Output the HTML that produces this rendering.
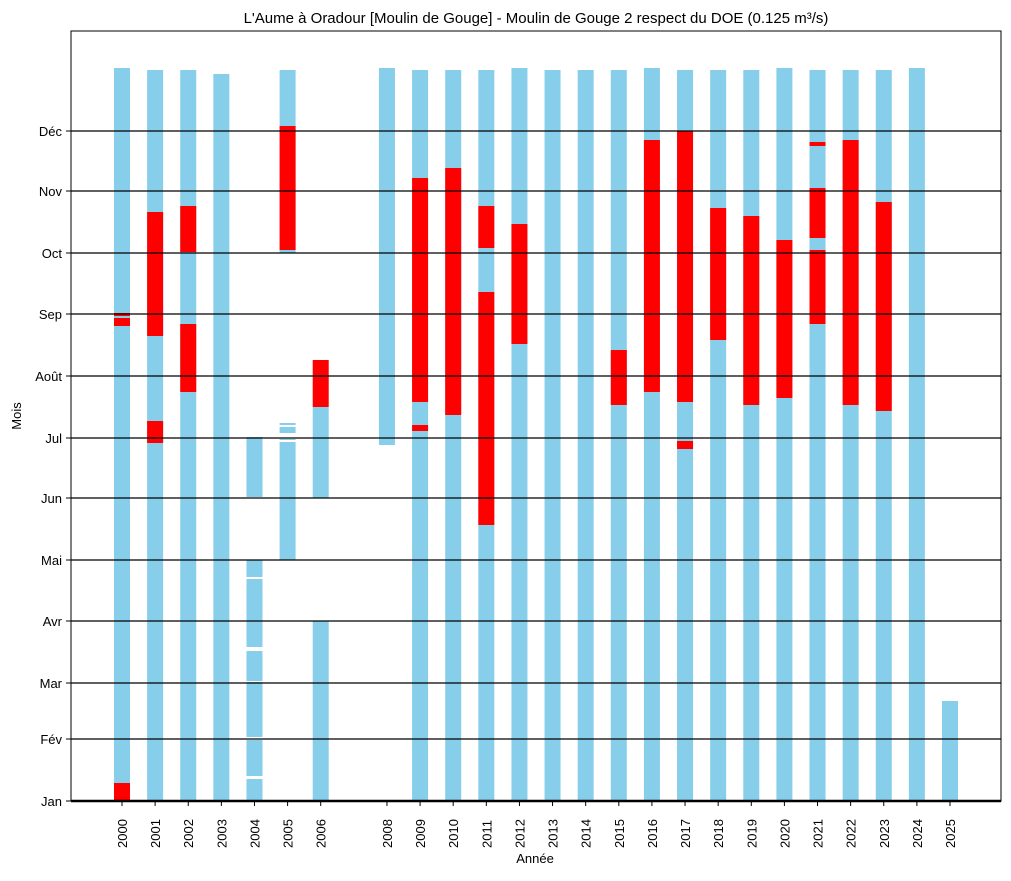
<!DOCTYPE html><html><head><meta charset="utf-8"><style>body{margin:0;background:#fff}</style></head><body>
<svg width="1011" height="876" xmlns="http://www.w3.org/2000/svg" font-family="Liberation Sans, DejaVu Sans, sans-serif">
<rect width="1011" height="876" fill="#fff"/>
<text x="536" y="23" font-size="15" text-anchor="middle">L'Aume à Oradour [Moulin de Gouge] - Moulin de Gouge 2 respect du DOE (0.125 m³/s)</text>
<g id="bars"></g>
<g id="grid" stroke="#000" stroke-width="1.2"></g>
<rect x="71" y="31" width="930" height="770" fill="none" stroke="#000" stroke-width="1"/>
<line x1="71" y1="801" x2="1001" y2="801" stroke="#000" stroke-width="2.5"/>
<g id="ylab" font-size="13" text-anchor="end"></g>
<g id="xlab" font-size="13"></g>
<text x="535" y="863" font-size="13" text-anchor="middle">Année</text>
<text transform="translate(21,416) rotate(-90)" font-size="13" text-anchor="middle">Mois</text>
</svg>
<script>
const ns="http://www.w3.org/2000/svg";
function el(p,t,a,txt){const e=document.createElementNS(ns,t);for(const k in a)e.setAttribute(k,a[k]);if(txt)e.textContent=txt;document.getElementById(p).appendChild(e);}
const B="#87ceeb",R="#ff0000",W="#ffffff";
const d={2000:[[B,68,801],[R,313,326],[B,316,318],[R,783,801]],
2001:[[B,70,801],[R,212,336],[R,421,443]],
2002:[[B,70,801],[R,206,252],[R,324,392]],
2003:[[B,74,801]],
2004:[[B,437,497],[B,560,801],[W,577,579],[W,647,651],[W,681,682],[W,737,740],[W,776,779]],
2005:[[B,70,253],[R,126,250],[B,423,425],[B,427,433],[B,439,440],[B,442,560]],
2006:[[R,360,407],[B,407,498],[B,621,801]],
2008:[[B,68,445]],
2009:[[B,70,801],[R,178,402],[R,425,431]],
2010:[[B,70,801],[R,168,415]],
2011:[[B,70,525],[R,206,248],[R,292,525],[B,525,801]],
2012:[[B,68,801],[R,224,344]],
2013:[[B,70,801]],2014:[[B,70,801]],
2015:[[B,70,801],[R,350,405]],
2016:[[B,68,801],[R,140,392]],
2017:[[B,70,801],[R,131,402],[R,441,449]],
2018:[[B,70,801],[R,208,340]],
2019:[[B,70,801],[R,216,405]],
2020:[[B,68,801],[R,240,398]],
2021:[[B,70,801],[R,142,146],[R,188,238],[R,250,324]],
2022:[[B,70,801],[R,140,405]],
2023:[[B,70,801],[R,202,411]],
2024:[[B,68,801]],
2025:[[B,701,801]]};
for(const y in d){const cx=122+33.12*(y-2000);
 for(const s of d[y])el("bars","rect",{x:cx-8,y:s[1],width:16,height:s[2]-s[1],fill:s[0]});
 el("xlab","line",{x1:cx,y1:801,x2:cx,y2:806,stroke:"#000"});
 el("xlab","text",{transform:`translate(${cx+5},848) rotate(-90)`},y);}
const m=[["Jan",801],["Fév",739],["Mar",683],["Avr",621],["Mai",560],["Jun",498],["Jul",438],["Août",376],["Sep",314],["Oct",253],["Nov",191],["Déc",131]];
for(const [n,yy] of m){el("grid","line",{x1:71,y1:yy,x2:1001,y2:yy});
 el("ylab","line",{x1:66,y1:yy,x2:71,y2:yy,stroke:"#000"});
 el("ylab","text",{x:62,y:yy+5},n);}
</script>
</body></html>
